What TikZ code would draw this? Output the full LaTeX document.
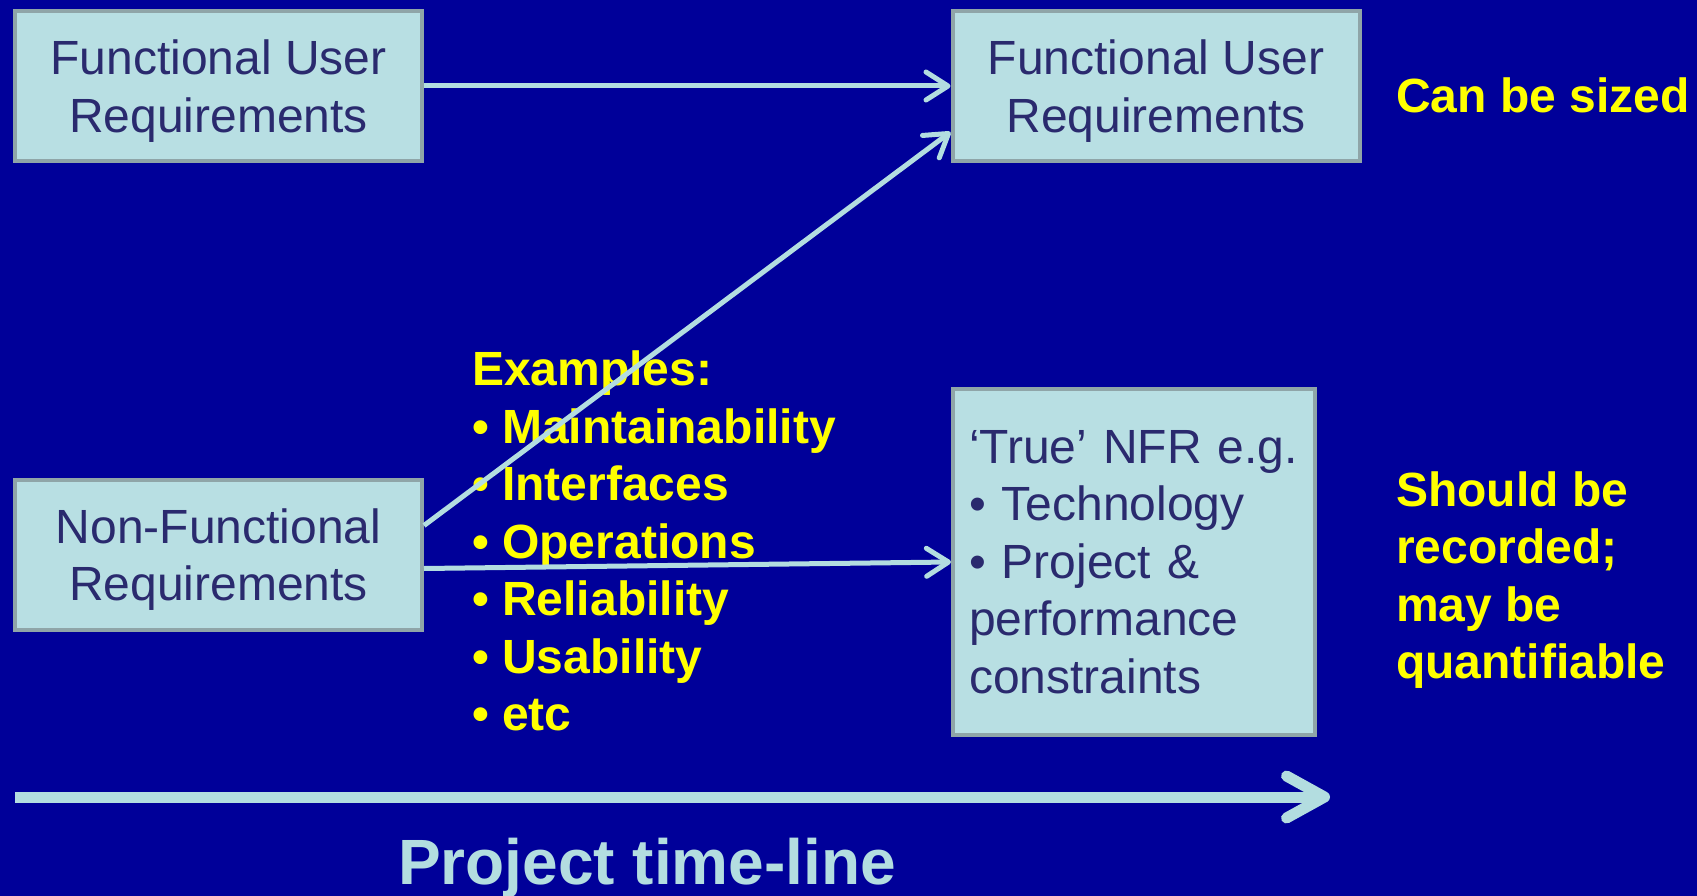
\documentclass[tikz,border=0pt]{standalone}
\usepackage{fontspec}
\setmainfont{Liberation Sans}
\usetikzlibrary{positioning,arrows.meta}

\definecolor{bgblue}{RGB}{0,0,153}
\definecolor{boxfill}{RGB}{184,223,227}
\definecolor{boxline}{RGB}{143,165,168}
\definecolor{boxtext}{RGB}{42,42,110}
\definecolor{lineblue}{RGB}{179,221,224}
\definecolor{hiyellow}{RGB}{255,255,0}

\begin{document}
\begin{tikzpicture}[x=1pt,y=-1pt,
    req box/.style={rectangle,draw=boxline,line width=4pt,fill=boxfill,text=boxtext,minimum width=407pt,minimum height=150pt,align=center,font=\fontsize{48}{57.5}\selectfont},
    two line/.style={text depth=0pt},
    note/.style={text=hiyellow,align=left,inner sep=0pt,font=\fontsize{48}{57.5}\selectfont\bfseries},
    link/.style={draw=lineblue,line width=5pt,-{Straight Barb[length=22pt,width=28pt,round]}},
    timeline/.style={draw=lineblue,line width=11pt,-{Straight Barb[length=38pt,width=42pt,round]}}]
    \fill[bgblue] (0,0) rectangle (1697,896);
    \useasboundingbox (0,0) rectangle (1697,896);

    \node[req box,two line] (fur1) at (218.5,86) {Functional User\\Requirements};
    \node[req box,two line] (fur2) [right of=fur1,node distance=937.5pt] {Functional User\\Requirements};
    \node[req box,two line] (nfr) [below of=fur1,node distance=468.5pt] {Non-Functional\\Requirements};
    \node[req box,minimum width=362pt,minimum height=346pt,text width=330pt,inner xsep=16pt,align=left] (tnfr) at (1134,562)
        {‘True’ NFR e.g.\\\textbullet{} Technology\\\textbullet{} Project \&\\performance\\constraints};

    \node[note,anchor=west] (examples) at (472,541)
        {Examples:\\\textbullet{} Maintainability\\\textbullet{} Interfaces\\\textbullet{} Operations\\\textbullet{} Reliability\\\textbullet{} Usability\\\textbullet{} etc};
    \node[note,anchor=west] (sized) at (1396,95) {Can be sized};
    \node[note,anchor=west] (recorded) at (1396,580) {Should be\\recorded;\\may be\\quantifiable};

    \path
        (fur1.east) edge[link] (fur2.west)
        ([yshift=29pt]nfr.east) edge[link] ([yshift=-46pt]fur2.west)
        ([yshift=-14pt]nfr.east) edge[link] (tnfr.west);

    \coordinate (tstart) at (15,797);
    \coordinate (tend) at (1330,797);
    \draw[timeline] (tstart) -- (tend);
    \node[text=lineblue,font=\fontsize{64}{76}\selectfont\bfseries] (tlabel) at (647,868) {Project time-line};
\end{tikzpicture}
\end{document}
